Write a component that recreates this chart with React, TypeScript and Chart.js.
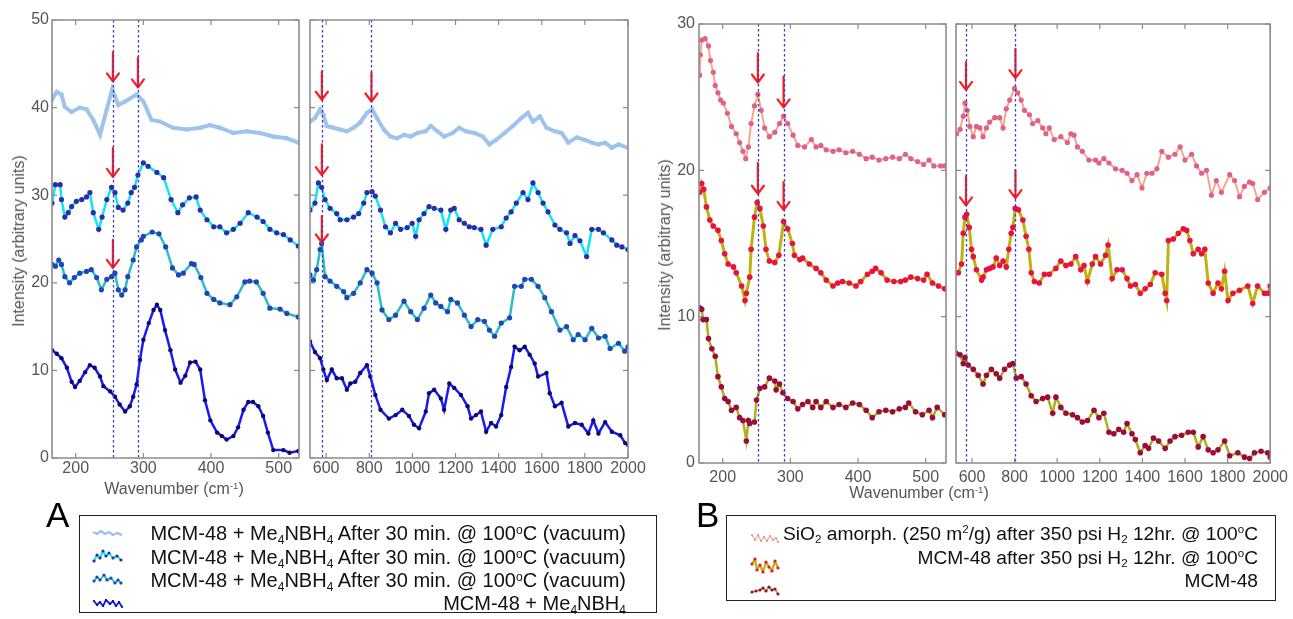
import React, { useEffect, useRef } from 'react';
import { Chart, registerables } from 'chart.js';

Chart.register(...registerables);

// ---------- Panel A, left (165–530 cm-1) ----------
const aL1x = [165,172,179,184,194,206,216,226,236,246,254,263,273,290,300,312,325,344,364,384,398,413,433,453,472,492,512,529];
const aL1y = [40.9,41.8,41.5,40.1,39.5,40.0,39.8,38.6,36.9,39.8,42.1,40.3,40.7,41.5,40.7,38.6,38.4,37.7,37.5,37.7,38.0,37.7,37.1,37.3,37.1,36.7,36.5,36.0];
const aL2x = [165,170,177,179,184,189,194,201,209,216,221,226,234,239,246,253,258,263,270,277,282,287,292,300,307,320,330,341,351,358,368,378,384,394,404,413,423,433,443,455,468,477,487,497,507,517,529];
const aL2y = [29.1,31.2,31.2,29.5,27.5,28.0,28.7,29.3,29.5,29.8,30.3,28.0,26.1,27.5,29.5,30.9,30.3,28.6,28.3,29.1,30.3,30.9,32.3,33.7,33.3,32.6,32.0,29.5,28.0,28.9,29.7,29.8,28.3,27.2,26.4,26.4,25.7,26.1,26.8,28.0,27.5,27.0,26.1,25.7,25.5,24.9,24.2];
const aL3x = [165,170,175,179,184,191,198,206,216,223,231,238,246,253,258,263,268,273,277,285,290,297,300,313,323,333,343,352,359,371,375,385,394,404,413,428,438,450,457,467,477,487,502,512,529];
const aL3y = [22.1,21.9,22.6,22.1,20.7,20.0,20.6,21.1,21.3,21.5,20.6,19.2,20.4,20.7,21.1,19.2,18.6,19.2,20.7,22.6,24.1,24.9,25.3,25.8,25.6,24.1,21.7,20.9,21.1,22.2,22.1,20.6,18.8,18.1,17.7,17.5,18.4,20.1,20.2,20.1,18.8,17.1,17.0,16.5,16.1];
const aL4x = [165,172,179,187,194,199,206,214,221,228,236,241,251,258,265,273,280,285,290,295,300,308,315,320,325,332,340,347,355,362,369,377,384,391,399,409,416,423,433,440,448,455,462,470,477,484,492,507,516,529];
const aL4y = [12.3,11.9,11.4,10.3,8.7,8.1,8.8,9.8,10.6,10.3,9.3,8.2,7.6,7.0,6.1,5.3,5.9,7.0,8.4,11.2,13.5,15.4,16.9,17.5,16.9,14.6,12.3,10.1,8.6,9.4,10.9,11.0,10.1,6.6,4.3,2.9,2.5,2.1,2.5,3.5,5.5,6.4,6.4,5.9,4.8,2.9,0.9,0.9,0.6,0.8];

// ---------- Panel A, right (525–2000 cm-1) ----------
const aR1x = [525,548,572,587,603,634,665,696,727,758,789,813,836,867,898,929,961,992,1023,1062,1085,1116,1147,1186,1217,1248,1287,1326,1357,1388,1427,1466,1505,1536,1559,1591,1622,1661,1692,1723,1762,1801,1832,1863,1894,1925,1956,2000];
const aR1y = [38.4,38.8,39.8,39.2,37.9,37.7,37.5,37.3,37.7,38.3,39.4,39.8,38.8,37.5,36.7,36.5,36.9,36.7,37.1,37.3,37.9,37.3,36.7,37.1,37.7,37.3,37.1,36.7,35.8,36.3,37.1,37.9,38.8,39.4,38.4,39.0,37.7,37.3,37.1,36.0,36.6,36.3,36.0,35.8,36.0,35.4,35.8,35.4];
const aR2x = [525,548,564,579,595,618,649,665,696,727,751,774,789,813,828,852,875,898,922,945,976,999,1015,1031,1054,1077,1101,1132,1155,1178,1194,1217,1241,1264,1287,1318,1342,1373,1412,1435,1458,1482,1513,1536,1559,1583,1606,1629,1661,1684,1715,1731,1754,1777,1808,1832,1863,1886,1925,1948,1972,2000];
const aR2y = [28.3,29.1,31.4,30.9,29.5,28.5,27.9,27.2,27.2,27.5,27.9,29.1,30.3,30.4,29.9,28.3,26.4,25.7,26.8,26.1,26.3,26.8,25.3,27.2,27.9,28.7,28.5,28.3,26.1,28.3,28.5,27.2,26.8,26.4,26.3,26.1,24.3,26.1,26.4,27.4,28.1,29.1,30.3,29.5,31.4,30.3,29.1,28.1,26.6,26.1,25.7,24.5,25.4,24.8,23.0,26.1,26.1,25.7,24.9,24.3,24.1,23.8];
const aR3x = [525,541,556,572,579,595,618,649,681,696,727,758,789,813,836,859,891,922,961,992,1023,1054,1085,1108,1132,1163,1178,1209,1241,1272,1303,1334,1357,1381,1412,1451,1474,1505,1521,1552,1583,1614,1645,1684,1715,1746,1769,1801,1832,1863,1894,1917,1956,1985,2000];
const aR3y = [20.9,20.3,21.5,23.8,24.5,20.7,20.2,19.6,19.0,18.3,18.8,20.0,21.5,21.1,20.0,16.9,15.8,16.3,17.9,16.7,15.8,17.1,18.6,17.7,17.3,16.7,18.1,17.7,16.3,15.0,15.8,15.6,14.6,13.9,15.4,16.0,19.6,19.6,20.4,20.4,19.6,18.3,16.7,14.6,15.0,13.5,14.1,13.5,14.8,13.7,13.9,12.5,13.1,12.2,12.7];
const aR4x = [525,548,572,587,603,626,649,673,696,712,735,758,789,805,828,852,891,922,953,984,1007,1031,1062,1077,1101,1132,1147,1171,1194,1225,1256,1272,1295,1318,1342,1365,1388,1412,1435,1458,1474,1497,1521,1544,1567,1583,1622,1637,1661,1692,1723,1754,1785,1816,1839,1863,1894,1925,1964,1987,2000];
const aR4y = [13.3,12.1,11.4,10.1,8.9,10.1,9.1,9.1,7.8,8.5,8.7,9.7,10.6,9.3,7.2,5.5,4.5,4.9,5.5,4.8,3.8,3.4,5.3,7.4,7.8,6.8,5.5,8.5,8.0,7.2,5.9,4.5,4.9,5.3,3.0,4.0,3.6,4.9,8.1,10.4,12.7,12.3,12.7,11.8,10.8,9.3,9.7,7.4,5.9,6.3,3.6,4.0,3.8,2.8,4.3,2.8,4.1,3.0,2.6,1.7,1.5];

// ---------- Panel B, left ----------
const bL1x = [166,167,169,174,179,182,186,189,193,197,201,207,213,220,225,230,234,238,242,247,252,257,262,269,277,284,290,296,304,311,321,331,338,345,353,363,372,382,392,402,412,421,431,441,451,461,470,478,488,497,505,512,522,528];
const bL1y = [26.5,27.9,28.9,29.0,28.5,27.5,26.7,25.8,25.3,24.8,24.6,23.9,23.0,22.5,21.9,21.3,20.8,21.6,23.2,24.4,25.2,24.1,22.9,22.3,22.6,23.2,23.7,23.2,22.4,21.7,21.6,22.1,21.6,21.7,21.4,21.3,21.4,21.2,21.3,21.1,20.8,20.9,20.7,20.8,20.9,20.8,21.1,20.8,20.6,20.4,20.7,20.3,20.3,20.3];
const bL2x = [166,169,172,176,181,186,193,198,203,208,216,220,228,233,235,240,242,247,251,255,260,264,269,277,283,290,296,303,306,314,318,328,338,345,353,363,370,377,387,397,404,414,421,426,434,443,453,463,470,478,488,497,502,510,519,528];
const bL2y = [18.5,19.1,18.7,17.5,16.6,16.2,15.9,15.2,14.3,13.6,13.4,13.0,12.1,11.1,11.6,12.7,14.6,16.8,17.8,17.4,16.2,14.6,13.8,13.7,14.2,16.5,16.0,15.0,14.2,13.9,14.0,13.6,13.3,13.0,12.5,12.1,12.3,12.4,12.3,12.1,12.4,12.9,13.1,13.3,13.0,12.5,12.4,12.4,12.5,12.7,12.6,12.5,12.9,12.3,12.1,11.9];
const bL3x = [166,169,171,176,179,184,189,193,198,203,208,213,220,225,230,235,238,240,247,250,255,262,269,277,279,284,289,296,304,311,318,326,333,338,345,353,363,372,382,392,402,412,421,431,441,451,461,470,475,485,495,505,510,517,528];
const bL3y = [10.6,10.5,9.8,9.8,8.5,7.8,7.3,5.9,5.2,4.4,4.2,3.6,3.8,3.1,2.9,1.5,2.9,2.7,2.8,4.3,5.1,5.2,5.8,5.6,5.0,5.4,4.8,4.4,4.2,3.7,4.0,4.2,3.8,4.2,3.8,4.2,3.8,4.0,3.8,4.1,4.0,3.6,3.1,3.5,3.6,3.5,3.7,3.8,4.1,3.5,3.3,3.6,3.1,3.8,3.3];

// ---------- Panel B, right ----------
const bR1x = [528,544,559,567,578,590,606,621,637,652,668,683,707,730,746,761,777,800,815,831,846,870,885,909,932,947,963,986,1017,1048,1064,1079,1095,1118,1149,1180,1196,1219,1243,1274,1305,1328,1351,1375,1398,1421,1445,1468,1491,1522,1553,1577,1600,1631,1654,1678,1701,1724,1747,1771,1810,1833,1856,1879,1903,1918,1941,1973,2000];
const bR1y = [22.5,22.8,23.7,24.6,24.1,23.0,22.3,23.0,22.9,22.3,22.9,23.3,23.6,23.6,22.9,24.2,24.8,25.6,25.3,24.8,24.1,23.8,23.2,23.4,22.9,22.5,22.9,22.1,22.3,21.9,22.5,22.4,21.6,21.3,20.7,20.7,20.5,20.8,20.5,20.1,20.0,19.8,19.3,19.7,18.8,19.8,19.8,20.1,21.3,20.9,21.1,21.6,20.7,21.1,20.3,19.8,20.0,18.3,19.3,18.5,19.7,19.3,18.2,18.9,19.2,19.1,18.0,18.5,18.8];
const bR2x = [525,536,551,559,567,575,587,598,606,621,645,652,668,683,699,714,730,746,761,773,784,792,803,818,839,854,867,878,893,916,940,963,994,1017,1041,1064,1087,1111,1126,1142,1165,1180,1204,1227,1239,1258,1281,1305,1328,1344,1367,1390,1413,1437,1460,1491,1507,1514,1522,1545,1569,1592,1608,1623,1639,1662,1678,1693,1709,1732,1755,1771,1786,1802,1825,1856,1895,1918,1941,1973,1990,2000];
const bR2y = [13.0,13.0,13.6,15.7,16.8,17.0,16.1,14.6,14.1,13.2,12.5,12.7,13.2,13.3,13.4,14.0,13.5,13.8,13.4,14.6,15.7,16.1,17.4,17.3,16.6,15.5,14.6,13.0,12.4,12.3,12.9,12.9,13.3,13.8,13.5,13.6,14.1,13.2,13.5,12.4,13.6,14.1,13.6,14.2,14.9,12.6,13.2,13.2,12.6,12.1,12.2,11.6,11.9,12.2,13.0,12.9,11.6,11.1,15.2,15.3,15.7,16.0,15.9,15.2,14.3,14.6,14.3,14.6,12.3,11.6,12.3,11.9,13.1,11.1,11.6,11.8,12.1,10.9,12.1,11.6,11.6,12.1];
const bR3x = [525,544,559,567,582,606,629,652,668,691,714,730,753,777,792,808,831,854,878,901,932,955,979,994,1017,1041,1072,1095,1118,1142,1173,1196,1219,1243,1266,1289,1312,1328,1351,1367,1390,1413,1429,1452,1476,1507,1530,1553,1584,1615,1639,1662,1685,1709,1732,1755,1786,1810,1848,1879,1903,1926,1957,1988,2000];
const bR3y = [7.5,7.4,6.8,7.2,6.7,6.4,6.0,5.4,6.0,6.4,6.1,5.8,6.4,6.7,6.8,5.8,5.9,5.4,4.6,4.2,4.4,4.5,3.4,4.5,3.8,3.4,3.3,3.1,2.8,2.9,3.6,3.1,3.4,2.1,2.0,2.3,2.1,2.7,2.0,1.6,0.7,1.2,1.0,1.7,1.5,1.0,1.5,1.8,1.9,2.1,2.1,1.1,1.8,0.9,0.7,0.9,1.5,0.5,0.7,0.4,0.3,0.7,0.8,0.7,0.4];

// ---------- markers: dotted reference lines and arrows ----------
const aLVlines = [255, 292];
const aRVlines = [580, 810];
const bLVlines = [252, 290];
const bRVlines = [572, 804];
const aLArrowX = [255, 292, 255, 255];
const aLArrowTop = [46.3, 45.7, 35.4, 24.9];
const aLArrowTip = [43.0, 42.3, 32.1, 21.7];
const aRArrowX = [580, 810, 580, 580];
const aRArrowTop = [44.1, 44.0, 35.8, 27.6];
const aRArrowTip = [40.9, 40.7, 32.3, 24.6];
const bLArrowX = [252, 290, 252, 290];
const bLArrowTop = [28.0, 26.4, 20.5, 19.2];
const bLArrowTip = [26.0, 24.3, 18.4, 17.3];
const bRArrowX = [572, 804, 572, 804];
const bRArrowTop = [27.4, 28.3, 19.6, 20.0];
const bRArrowTip = [25.5, 26.3, 17.6, 18.1];

const labelsA = [
  'MCM-48 + Me4NBH4 After 30 min. @ 100ºC (vacuum)',
  'MCM-48 + Me4NBH4 After 30 min. @ 100ºC (vacuum)',
  'MCM-48 + Me4NBH4 After 30 min. @ 100ºC (vacuum)',
  'MCM-48 + Me4NBH4',
];
const labelsB = [
  'SiO2 amorph. (250 m2/g) after 350 psi H2 12hr. @ 100ºC',
  'MCM-48 after 350 psi H2 12hr. @ 100ºC',
  'MCM-48',
];

const FONT = '"Liberation Sans", Arial, Helvetica, sans-serif';
const W = 1293;
const H = 619;

type Style = { line: string; point: string; lw: number; pr: number };
const stylesA: Style[] = [
  { line: '#9ec4ec', point: '#9ec4ec', lw: 4, pr: 2.2 },
  { line: '#10e6f2', point: '#2c2ca8', lw: 2.5, pr: 2.6 },
  { line: '#2cbcc4', point: '#1f46b4', lw: 2.5, pr: 2.6 },
  { line: '#1818ff', point: '#0c0c62', lw: 2.5, pr: 2.2 },
];
const stylesB: Style[] = [
  { line: '#f2a888', point: '#e0608a', lw: 2, pr: 2.6 },
  { line: '#bcb210', point: '#ea1040', lw: 3, pr: 2.8 },
  { line: '#aab020', point: '#9c0c3a', lw: 2.5, pr: 2.8 },
];

function pts(x: number[], y: number[]) {
  return x.map((v, i) => ({ x: v, y: y[i] }));
}

function makeFrame(vlines: number[], ax: number[], atop: number[], atip: number[]) {
  return {
    id: 'matlabFrame',
    afterDatasetsDraw(chart: any) {
      const { ctx, chartArea: a, scales } = chart;
      const xs = scales.x;
      const ys = scales.y;
      ctx.save();
      ctx.strokeStyle = '#ff1c1c';
      ctx.lineWidth = 2.2;
      ctx.lineCap = 'round';
      ctx.lineJoin = 'round';
      ax.forEach((v, i) => {
        const px = xs.getPixelForValue(v);
        const pt = ys.getPixelForValue(atop[i]);
        const pp = ys.getPixelForValue(atip[i]);
        ctx.beginPath();
        ctx.moveTo(px, pt);
        ctx.lineTo(px, pp);
        ctx.moveTo(px - 6, pp - 8);
        ctx.lineTo(px, pp);
        ctx.lineTo(px + 6, pp - 8);
        ctx.stroke();
      });
      ctx.lineCap = 'butt';
      ctx.strokeStyle = '#3a3ac4';
      ctx.lineWidth = 1.3;
      ctx.setLineDash([2.5, 2.5]);
      vlines.forEach((v) => {
        const px = Math.round(xs.getPixelForValue(v)) + 0.5;
        ctx.beginPath();
        ctx.moveTo(px, a.top);
        ctx.lineTo(px, a.bottom);
        ctx.stroke();
      });
      ctx.setLineDash([]);
      ctx.strokeStyle = '#8c8c8c';
      ctx.lineWidth = 1.6;
      ctx.strokeRect(a.left, a.top, a.right - a.left, a.bottom - a.top);
      ctx.lineWidth = 1.2;
      ctx.beginPath();
      xs.ticks.forEach((t: any) => {
        const p = xs.getPixelForValue(t.value);
        ctx.moveTo(p, a.bottom);
        ctx.lineTo(p, a.bottom - 5);
        ctx.moveTo(p, a.top);
        ctx.lineTo(p, a.top + 5);
      });
      ys.ticks.forEach((t: any) => {
        const p = ys.getPixelForValue(t.value);
        ctx.moveTo(a.left, p);
        ctx.lineTo(a.left + 5, p);
        ctx.moveTo(a.right, p);
        ctx.lineTo(a.right - 5, p);
      });
      ctx.stroke();
      ctx.restore();
    },
  };
}

type PanelProps = {
  xs: number[][];
  ys: number[][];
  labels: string[];
  styles: Style[];
  xmin: number;
  xmax: number;
  xstep: number;
  ymax: number;
  showY: boolean;
  pad: { left: number; top: number; right: number; bottom: number };
  xLabelPad: number;
  yLabelPad: number;
  vlines: number[];
  ax: number[];
  atop: number[];
  atip: number[];
};

function Panel(p: PanelProps) {
  const ref = useRef<HTMLCanvasElement>(null);
  useEffect(() => {
    const tickFont = { family: FONT, size: 16 };
    const chart = new Chart(ref.current as HTMLCanvasElement, {
      type: 'line',
      data: {
        datasets: p.xs.map((x, i) => ({
          label: p.labels[i],
          data: pts(x, p.ys[i]),
          borderColor: p.styles[i].line,
          borderWidth: p.styles[i].lw,
          pointRadius: p.styles[i].pr,
          pointBackgroundColor: p.styles[i].point,
          pointBorderWidth: 0,
          tension: 0,
          fill: false,
        })),
      },
      options: {
        animation: false,
        responsive: false,
        devicePixelRatio: 1,
        events: [],
        layout: { padding: p.pad },
        plugins: { legend: { display: false }, tooltip: { enabled: false } },
        scales: {
          x: {
            type: 'linear',
            min: p.xmin,
            max: p.xmax,
            grid: { display: false, drawTicks: false },
            border: { display: false },
            ticks: {
              stepSize: p.xstep,
              includeBounds: false,
              autoSkip: false,
              maxRotation: 0,
              padding: p.xLabelPad,
              color: '#555',
              font: tickFont,
              callback: (v: any) => String(v),
            },
            afterFit: (s: any) => {
              s.height = 40;
            },
          },
          y: {
            type: 'linear',
            min: 0,
            max: p.ymax,
            grid: { display: false, drawTicks: false },
            border: { display: false },
            ticks: {
              display: p.showY,
              stepSize: 10,
              padding: p.yLabelPad,
              color: '#555',
              font: tickFont,
              callback: (v: any) => String(v),
            },
            afterFit: (s: any) => {
              s.width = p.showY ? 40 : 0;
            },
          },
        },
      },
      plugins: [makeFrame(p.vlines, p.ax, p.atop, p.atip)],
    } as any);
    return () => chart.destroy();
  }, []);
  return <canvas ref={ref} width={W} height={H} style={{ position: 'absolute', left: 0, top: 0, width: W, height: H }} />;
}

const subS: React.CSSProperties = { fontSize: '0.6em', position: 'relative', top: '0.3em', verticalAlign: 'baseline' };
const supS: React.CSSProperties = { fontSize: '0.6em', position: 'relative', top: '-0.55em', verticalAlign: 'baseline' };

function Txt({ left, top, size, children, color = '#111', align = 'left', width }: any) {
  const st: React.CSSProperties = {
    position: 'absolute',
    left,
    top,
    fontFamily: FONT,
    fontSize: size,
    lineHeight: `${size}px`,
    color,
    whiteSpace: 'nowrap',
    textAlign: align,
  };
  if (width !== undefined) st.width = width;
  return <div style={st}>{children}</div>;
}

function Icon({ left, top, w, h, path, line, lw, dot, r }: any) {
  const pairs = path.split(' ').map((s: string) => s.split(',').map(Number));
  return (
    <svg style={{ position: 'absolute', left, top }} width={w} height={h}>
      <polyline points={path} fill="none" stroke={line} strokeWidth={lw} strokeLinejoin="round" />
      {dot &&
        pairs.map((q: number[], i: number) => <circle key={i} cx={q[0]} cy={q[1]} r={r} fill={dot} />)}
    </svg>
  );
}

const MeN = () => (
  <>
    Me<sub style={subS}>4</sub>NBH<sub style={subS}>4</sub>
  </>
);

export default function App() {
  const rowA = [533, 557, 580, 603];
  const rowB = [533, 557, 580];
  const fsA = 20;
  const fsB = 19.2;
  return (
    <div style={{ position: 'absolute', left: 0, top: 0, width: W, height: H, background: '#fff', overflow: 'hidden' }}>
      <Panel
        xs={[aL1x, aL2x, aL3x, aL4x]}
        ys={[aL1y, aL2y, aL3y, aL4y]}
        labels={labelsA}
        styles={stylesA}
        xmin={165}
        xmax={530}
        xstep={100}
        ymax={50}
        showY={true}
        pad={{ left: 12, top: 20, right: W - 299, bottom: H - 458 - 40 }}
        xLabelPad={1}
        yLabelPad={3}
        vlines={aLVlines}
        ax={aLArrowX}
        atop={aLArrowTop}
        atip={aLArrowTip}
      />
      <Panel
        xs={[aR1x, aR2x, aR3x, aR4x]}
        ys={[aR1y, aR2y, aR3y, aR4y]}
        labels={labelsA}
        styles={stylesA}
        xmin={525}
        xmax={2000}
        xstep={200}
        ymax={50}
        showY={false}
        pad={{ left: 310, top: 20, right: W - 628, bottom: H - 458 - 40 }}
        xLabelPad={1}
        yLabelPad={3}
        vlines={aRVlines}
        ax={aRArrowX}
        atop={aRArrowTop}
        atip={aRArrowTip}
      />
      <Panel
        xs={[bL1x, bL2x, bL3x]}
        ys={[bL1y, bL2y, bL3y]}
        labels={labelsB}
        styles={stylesB}
        xmin={165}
        xmax={530}
        xstep={100}
        ymax={30}
        showY={true}
        pad={{ left: 699 - 40, top: 24, right: W - 946, bottom: H - 463 - 40 }}
        xLabelPad={5}
        yLabelPad={4}
        vlines={bLVlines}
        ax={bLArrowX}
        atop={bLArrowTop}
        atip={bLArrowTip}
      />
      <Panel
        xs={[bR1x, bR2x, bR3x]}
        ys={[bR1y, bR2y, bR3y]}
        labels={labelsB}
        styles={stylesB}
        xmin={525}
        xmax={2000}
        xstep={200}
        ymax={30}
        showY={false}
        pad={{ left: 956, top: 24, right: W - 1273, bottom: H - 463 - 40 }}
        xLabelPad={5}
        yLabelPad={4}
        vlines={bRVlines}
        ax={bRArrowX}
        atop={bRArrowTop}
        atip={bRArrowTip}
      />

      <div
        style={{
          position: 'absolute', left: 19, top: 241, transform: 'translate(-50%,-50%) rotate(-90deg)',
          fontFamily: FONT, fontSize: 16, color: '#555', whiteSpace: 'nowrap', lineHeight: '16px',
        }}
      >
        Intensity (arbitrary units)
      </div>
      <div
        style={{
          position: 'absolute', left: 665, top: 245, transform: 'translate(-50%,-50%) rotate(-90deg)',
          fontFamily: FONT, fontSize: 16, color: '#555', whiteSpace: 'nowrap', lineHeight: '16px',
        }}
      >
        Intensity (arbitrary units)
      </div>
      <div style={{ position: 'absolute', left: 174, top: 481, transform: 'translateX(-50%)', fontFamily: FONT, fontSize: 16, lineHeight: '16px', color: '#555', whiteSpace: 'nowrap' }}>
        Wavenumber (cm<sup style={supS}>-1</sup>)
      </div>
      <div style={{ position: 'absolute', left: 919, top: 485, transform: 'translateX(-50%)', fontFamily: FONT, fontSize: 16, lineHeight: '16px', color: '#555', whiteSpace: 'nowrap' }}>
        Wavenumber (cm<sup style={supS}>-1</sup>)
      </div>

      <Txt left={46} top={497} size={35} color="#000">A</Txt>
      <Txt left={696} top={497} size={35} color="#000">B</Txt>

      <div style={{ position: 'absolute', left: 79, top: 515, width: 578, height: 98, border: '1.5px solid #222', boxSizing: 'border-box' }} />
      {[0, 1, 2].map((i) => (
        <Txt key={i} left={79} width={626 - 79} align="right" top={rowA[i] - 0.49 * fsA} size={fsA}>
          MCM-48 + <MeN /> After 30 min. @ 100<sup style={supS}>o</sup>C (vacuum)
        </Txt>
      ))}
      <Txt left={79} width={626 - 79} align="right" top={rowA[3] - 0.49 * fsA} size={fsA}>
        MCM-48 + <MeN />
      </Txt>
      <Icon left={92} top={527} w={32} h={12} path="1,5 5,7 9,4 13,7 17,5 21,8 25,6 30,8" line="#9ec4ec" lw={2.5} />
      <Icon left={92} top={548} w={32} h={16} path="2,13 5,7 8,10 11,3 14,8 17,5 21,10 25,8 29,12" line="#10e6f2" lw={2} dot="#2c2ca8" r={1.6} />
      <Icon left={92} top={572} w={32} h={16} path="2,9 5,5 8,8 12,3 15,8 19,6 23,11 26,8 29,11" line="#2cbcc4" lw={2} dot="#1f46b4" r={1.6} />
      <Icon left={92} top={596} w={32} h={15} path="2,5 5,9 8,6 11,10 14,4 18,8 21,5 24,10 27,6 30,11" line="#1818ff" lw={1.8} dot="#0c0c62" r={1.1} />

      <div style={{ position: 'absolute', left: 726, top: 515, width: 550, height: 86, border: '1.5px solid #222', boxSizing: 'border-box' }} />
      <Txt left={726} width={1258 - 726} align="right" top={rowB[0] - 0.49 * fsB} size={fsB}>
        SiO<sub style={subS}>2</sub> amorph. (250 m<sup style={supS}>2</sup>/g) after 350 psi H<sub style={subS}>2</sub> 12hr. @ 100<sup style={supS}>o</sup>C
      </Txt>
      <Txt left={726} width={1258 - 726} align="right" top={rowB[1] - 0.49 * fsB} size={fsB}>
        MCM-48 after 350 psi H<sub style={subS}>2</sub> 12hr. @ 100<sup style={supS}>o</sup>C
      </Txt>
      <Txt left={726} width={1258 - 726} align="right" top={rowB[2] - 0.49 * fsB} size={fsB}>
        MCM-48
      </Txt>
      <Icon left={750} top={532} w={30} h={13} path="2,3 5,8 8,3 11,9 14,5 17,9 20,4 23,8 26,6 28,10" line="#f2a888" lw={1.2} dot="#f08aa0" r={1.1} />
      <Icon left={750} top={556} w={30} h={22} path="2,8 5,3 7,14 10,9 13,16 16,6 19,11 22,15 25,5 28,12" line="#bcb210" lw={2.2} dot="#ea1040" r={1.6} />
      <Icon left={750} top={584} w={30} h={13} path="2,8 6,7 10,6 13,4 16,7 19,3 22,6 25,5 28,10" line="#aab020" lw={1.8} dot="#9c0c3a" r={1.6} />
    </div>
  );
}
